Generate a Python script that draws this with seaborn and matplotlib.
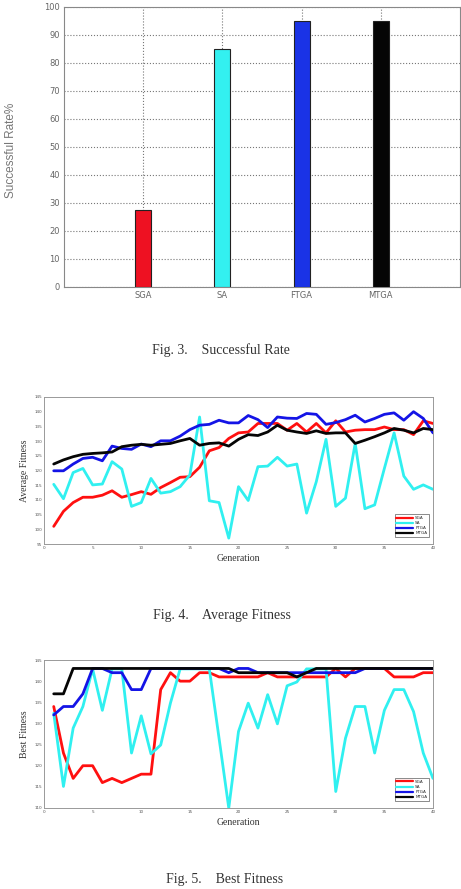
import numpy as np
import pandas as pd
import matplotlib
matplotlib.use("Agg")
import matplotlib.pyplot as plt
import seaborn as sns

# ---- data ----
methods = ["SGA", "SA", "FTGA", "MTGA"]
success_rate = [27.5, 85, 95, 95]

generations = list(range(1, 41))

avg_sga = [101.0, 106.1, 109.1, 110.9, 110.9, 111.6, 113.1, 110.9, 111.8, 112.8,
           111.9, 114.2, 115.9, 117.7, 117.9, 121.1, 126.7, 127.8, 130.9, 132.8,
           133.1, 136.0, 136.0, 136.0, 133.7, 136.0, 133.1, 136.0, 132.8, 136.9,
           133.1, 133.7, 133.9, 133.9, 134.8, 133.9, 133.9, 132.2, 136.9, 136.0]
avg_sa = [115.3, 110.4, 119.3, 120.7, 115.1, 115.4, 123.0, 120.5, 107.8, 109.1,
          117.3, 112.3, 112.8, 114.5, 118.5, 138.2, 109.7, 109.1, 97.0, 114.5,
          109.8, 121.3, 121.5, 124.5, 121.5, 122.2, 105.5, 116.2, 130.6, 107.8,
          110.6, 129.2, 107.0, 108.3, 120.7, 132.8, 118.1, 113.6, 115.1, 113.6]
avg_ftga = [119.9, 119.9, 122.2, 124.1, 124.5, 123.3, 128.3, 127.5, 127.2, 129.0,
            128.1, 130.1, 130.1, 131.7, 133.9, 135.4, 135.7, 137.1, 136.2, 136.2,
            138.7, 137.3, 134.6, 138.2, 137.8, 137.7, 139.4, 139.1, 135.7, 136.3,
            137.3, 138.8, 136.5, 137.7, 139.1, 139.6, 137.1, 140.0, 137.7, 132.8]
avg_mtga = [122.2, 123.6, 124.7, 125.5, 125.8, 126.0, 126.3, 128.1, 128.6, 128.9,
            128.6, 128.9, 129.2, 130.1, 130.9, 128.6, 129.2, 129.4, 128.3, 130.6,
            132.2, 131.9, 133.1, 135.4, 133.7, 133.1, 132.6, 133.5, 132.6, 132.8,
            132.8, 129.2, 130.3, 131.5, 132.8, 134.3, 133.7, 132.8, 134.3, 133.9]

best_sga = [134, 123, 117, 120, 120, 116, 117, 116, 117, 118,
            118, 138, 142, 140, 140, 142, 142, 141, 141, 141,
            141, 141, 142, 141, 141, 141, 141, 141, 141, 143,
            141, 143, 143, 143, 143, 141, 141, 141, 142, 142]
best_sa = [132.4, 115.1, 128.9, 134.0, 142.9, 133.1, 142.9, 142.9, 123.0, 131.8,
           122.8, 124.9, 134.8, 142.9, 142.9, 142.9, 142.9, 126.5, 110.0, 128.1,
           134.8, 128.9, 136.8, 129.9, 138.9, 139.8, 142.9, 142.9, 142.9, 113.9,
           126.5, 134.0, 134.0, 123.0, 133.1, 138.0, 138.0, 132.8, 123.0, 117.0]
best_ftga = [132, 134, 134, 137, 143, 143, 142, 142, 138, 138,
             143, 143, 143, 143, 143, 143, 143, 143, 142, 143,
             143, 142, 142, 142, 142, 142, 142, 142, 142, 142,
             142, 142, 143, 143, 143, 143, 143, 143, 143, 143]
best_mtga = [137, 137, 143, 143, 143, 143, 143, 143, 143, 143,
             143, 143, 143, 143, 143, 143, 143, 143, 143, 142,
             142, 142, 142, 142, 142, 141, 142, 143, 143, 143,
             143, 143, 143, 143, 143, 143, 143, 143, 143, 143]

bar_colors = ["#ee1122", "#33f0f0", "#1a33e6", "#050505"]
line_colors = ["#ff1010", "#30f0f0", "#1414e6", "#050505"]

sns.set_style("white")
plt.rcParams["font.family"] = ["DejaVu Sans"]
serif = "Liberation Serif"
grey = "#555555"

fig = plt.figure(figsize=(4.61, 8.89), dpi=100)
H = 889.0
W = 461.0


def box(left, top, right, bottom):
    return [left / W, 1 - bottom / H, (right - left) / W, (bottom - top) / H]


# ---- Fig. 3 bar chart ----
ax1 = fig.add_axes(box(64, 7, 460, 287))
bar_df = pd.DataFrame({"method": methods, "rate": success_rate})
sns.barplot(data=bar_df, x="method", y="rate", hue="method", palette=bar_colors,
            saturation=1, width=0.2, edgecolor="#222222", linewidth=0.8,
            legend=False, ax=ax1, zorder=3)
ax1.set_xlim(-1, 4)
ax1.set_ylim(0, 100)
ax1.set_yticks(range(0, 101, 10))
ax1.grid(True, linestyle=":", color="#777777", linewidth=0.8)
ax1.set_axisbelow(True)
for s in ax1.spines.values():
    s.set_color("#888888")
    s.set_linewidth(0.8)
ax1.tick_params(axis="both", labelsize=6, labelcolor="#666666", length=2,
                direction="in", color="#888888", pad=3)
ax1.set_xlabel("")
ax1.set_ylabel("")
fig.text(11 / W, 1 - 150 / H, "Successful Rate%", rotation=90, ha="center",
         va="center", fontsize=8.5, color="#777777", family="Liberation Sans")
fig.text(221 / W, 1 - 350 / H, "Fig. 3.    Successful Rate", ha="center",
         va="center", fontsize=10, family=serif, color="#333333")


# ---- line charts ----
def line_panel(ax, series, ylim, yticks, ylabel):
    df = pd.DataFrame({"Generation": generations * 4,
                       "value": sum(series, []),
                       "method": sum([[m] * len(generations) for m in methods], [])})
    sns.lineplot(data=df, x="Generation", y="value", hue="method",
                 palette=line_colors, linewidth=2, ax=ax)
    ax.set_xlim(0, 40)
    ax.set_ylim(*ylim)
    ax.set_xticks(range(0, 41, 5))
    ax.set_yticks(yticks)
    for s in ax.spines.values():
        s.set_color("#999999")
        s.set_linewidth(0.7)
    ax.tick_params(axis="both", labelsize=3, labelcolor=grey, length=2,
                   direction="in", color="#777777", pad=1.5)
    ax.set_xlabel("Generation", fontsize=7, family=serif, color="#333333",
                  labelpad=3)
    ax.set_ylabel(ylabel, fontsize=7, family=serif, color="#333333", labelpad=4)
    leg = ax.legend(loc="lower right", bbox_to_anchor=(0.995, 0.035),
                    fontsize=3, frameon=True, fancybox=False, handlelength=4,
                    borderpad=0.4, labelspacing=0.25, handletextpad=0.5)
    leg.get_frame().set_edgecolor("#333333")
    leg.get_frame().set_linewidth(0.5)
    for h in leg.get_lines():
        h.set_linewidth(1.6)


ax2 = fig.add_axes(box(44, 397, 433, 544))
line_panel(ax2, [avg_sga, avg_sa, avg_ftga, avg_mtga], (95, 145),
           range(95, 146, 5), "Average Fitness")
fig.text(222 / W, 1 - 615 / H, "Fig. 4.    Average Fitness", ha="center",
         va="center", fontsize=10, family=serif, color="#333333")

ax3 = fig.add_axes(box(44, 660, 433, 808))
line_panel(ax3, [best_sga, best_sa, best_ftga, best_mtga], (110, 145),
           range(110, 146, 5), "Best Fitness")
fig.text(225 / W, 1 - 880 / H, "Fig. 5.    Best Fitness", ha="center",
         va="center", fontsize=10, family=serif, color="#333333")

fig.savefig("out.png", dpi=100)
